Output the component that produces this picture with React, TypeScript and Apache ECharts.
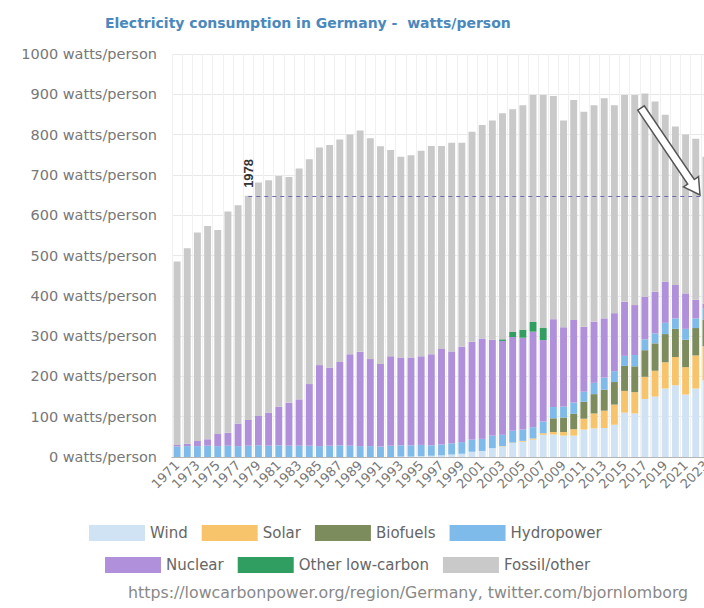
import React, { useEffect, useRef } from "react";
import * as echarts from "echarts";

const years = [
  "1971","1972","1973","1974","1975","1976","1977","1978","1979","1980",
  "1981","1982","1983","1984","1985","1986","1987","1988","1989","1990",
  "1991","1992","1993","1994","1995","1996","1997","1998","1999","2000",
  "2001","2002","2003","2004","2005","2006","2007","2008","2009","2010",
  "2011","2012","2013","2014","2015","2016","2017","2018","2019","2020",
  "2021","2022","2023",
];

const wind = [
  0,0,0,0,0,0,0,0,0,0,
  0,0,0,0,0,0,0,0,0,0,
  0,0,1,1,2,3,4,6,8,13,
  15,22,26,35,38,43,55,56,53,53,
  68,71,72,80,110,108,144,150,170,178,
  155,170,190,
];
const solar = [
  0,0,0,0,0,0,0,0,0,0,
  0,0,0,0,0,0,0,0,0,0,
  0,0,0,0,0,0,0,0,0,0,
  0,0,1,1,2,3,4,6,9,16,
  27,37,43,50,54,53,55,64,65,70,
  68,82,85,
];
const biofuels = [
  0,0,0,0,0,0,0,0,0,0,
  0,0,0,0,0,0,0,0,0,0,
  0,0,0,0,0,0,0,0,0,0,
  0,0,0,0,0,0,0,34,36,38,
  42,48,52,56,62,64,66,68,70,70,
  68,68,66,
];
const hydro = [
  26,27,27,28,27,28,27,28,29,28,
  29,28,28,28,27,28,29,28,27,27,
  26,28,28,28,28,26,27,28,29,30,
  30,31,28,29,28,28,29,28,27,28,
  25,28,30,27,25,28,27,25,28,26,
  27,24,27,
];
const nuclear = [
  4,6,13,16,30,32,56,64,73,82,
  96,107,115,153,201,194,207,227,234,216,
  205,222,218,218,220,226,237,228,237,243,
  249,238,233,233,228,237,202,218,197,205,
  161,152,147,144,134,124,106,103,102,83,
  88,46,12,
];
const otherLowCarbon = [
  0,0,0,0,0,0,0,0,0,0,
  0,0,0,0,0,0,0,0,0,0,
  0,0,0,0,0,0,0,0,0,0,
  0,0,4,12,20,24,30,0,0,0,
  0,0,0,0,0,0,0,0,0,0,
  0,0,0,
];
const fossil = [
  455,485,517,529,506,549,542,556,579,577,
  572,560,573,558,540,552,552,545,549,548,
  540,512,498,502,510,517,504,518,506,521,
  530,544,561,553,557,563,578,554,513,546,
  534,537,546,516,513,521,504,472,414,393,
  394,400,365,
];

const refYear = "1978";
const refValue = 648;

const FONT = "DejaVu Sans";

export default function App() {
  const ref = useRef<HTMLDivElement>(null);

  useEffect(() => {
    if (!ref.current) return;
    const chart = echarts.init(ref.current, null, { renderer: "svg" });

    const mk = (name: string, data: number[], color: string, extra: any = {}) => ({
      name,
      type: "bar",
      stack: "total",
      data,
      barWidth: "68%",
      itemStyle: { color },
      emphasis: { disabled: true },
      ...extra,
    });

    const legendText = { fontFamily: FONT, fontSize: 15, color: "#666" };

    chart.setOption({
      animation: false,
      backgroundColor: "#ffffff",
      title: {
        text: "Electricity consumption in Germany -  watts/person",
        left: 100,
        top: 11,
        textStyle: {
          fontFamily: FONT,
          fontWeight: "bold",
          fontSize: 14,
          color: "#4a88bd",
        },
      },
      legend: [
        {
          data: ["Wind", "Solar", "Biofuels", "Hydropower"],
          left: 84,
          top: 520,
          icon: "rect",
          itemWidth: 56,
          itemHeight: 16,
          itemGap: 14,
          selectedMode: false,
          textStyle: legendText,
        },
        {
          data: ["Nuclear", "Other low-carbon", "Fossil/other"],
          left: 100,
          top: 552,
          icon: "rect",
          itemWidth: 56,
          itemHeight: 16,
          itemGap: 14,
          selectedMode: false,
          textStyle: legendText,
        },
      ],
      grid: { left: 172, top: 54, width: 539, height: 403, containLabel: false },
      xAxis: {
        type: "category",
        data: years,
        axisLine: { lineStyle: { color: "#b5b5b5" } },
        axisTick: { show: false },
        splitLine: { show: true, interval: 0, lineStyle: { color: "#f0f0f0" } },
        axisLabel: {
          interval: 1,
          rotate: 45,
          fontFamily: FONT,
          fontSize: 13,
          color: "#777",
          margin: 6,
        },
      },
      yAxis: {
        type: "value",
        min: 0,
        max: 1000,
        interval: 100,
        axisLine: { show: false },
        axisTick: { show: false },
        splitLine: { lineStyle: { color: "#e8e8e8" } },
        axisLabel: {
          formatter: (v: number) => `${v} watts/person`,
          fontFamily: FONT,
          fontSize: 14.5,
          color: "#777",
          margin: 15,
        },
      },
      series: [
        mk("Wind", wind, "#cfe3f5"),
        mk("Solar", solar, "#f7c46c"),
        mk("Biofuels", biofuels, "#7d8c5c"),
        mk("Hydropower", hydro, "#7fbbea"),
        mk("Nuclear", nuclear, "#b090da"),
        mk("Other low-carbon", otherLowCarbon, "#2f9e60"),
        mk("Fossil/other", fossil, "#c9c9c9", {
          markLine: {
            silent: true,
            symbol: ["none", "none"],
            label: { show: false },
            lineStyle: { color: "#6b6bb0", type: [4, 4], width: 1.2 },
            data: [[{ xAxis: refYear, yAxis: refValue }, { xAxis: "2023", yAxis: refValue }]],
          },
        }),
      ],
    });

    const px = chart.convertToPixel({ xAxisIndex: 0 }, refYear) as number;
    const py = chart.convertToPixel({ yAxisIndex: 0 }, refValue) as number;

    chart.setOption({
      graphic: [
        {
          type: "text",
          x: px,
          y: py - 8,
          rotation: Math.PI / 2,
          style: {
            text: refYear,
            fontFamily: "Liberation Sans",
            fontWeight: "bold",
            fontSize: 13,
            fill: "#333",
            align: "left",
            verticalAlign: "middle",
          },
        },
        {
          type: "polygon",
          shape: {
            points: [
              [637.7, 110.2],
              [687.7, 184],
              [683.5, 186.8],
              [700, 195],
              [698.5, 176.6],
              [694.3, 179.5],
              [644.3, 105.8],
            ],
          },
          style: { fill: "#ffffff", stroke: "#555555", lineWidth: 1.5 },
          z: 100,
        },
        {
          type: "text",
          x: 128,
          y: 592,
          style: {
            text: "https://lowcarbonpower.org/region/Germany, twitter.com/bjornlomborg",
            fontFamily: FONT,
            fontSize: 15.8,
            fill: "#888",
            align: "left",
            verticalAlign: "middle",
          },
        },
      ],
    });

    return () => chart.dispose();
  }, []);

  return (
    <div
      style={{
        position: "fixed",
        left: 0,
        top: 0,
        width: 704,
        height: 608,
        overflow: "hidden",
        background: "#fff",
      }}
    >
      <div ref={ref} style={{ width: 720, height: 608 }} />
    </div>
  );
}
